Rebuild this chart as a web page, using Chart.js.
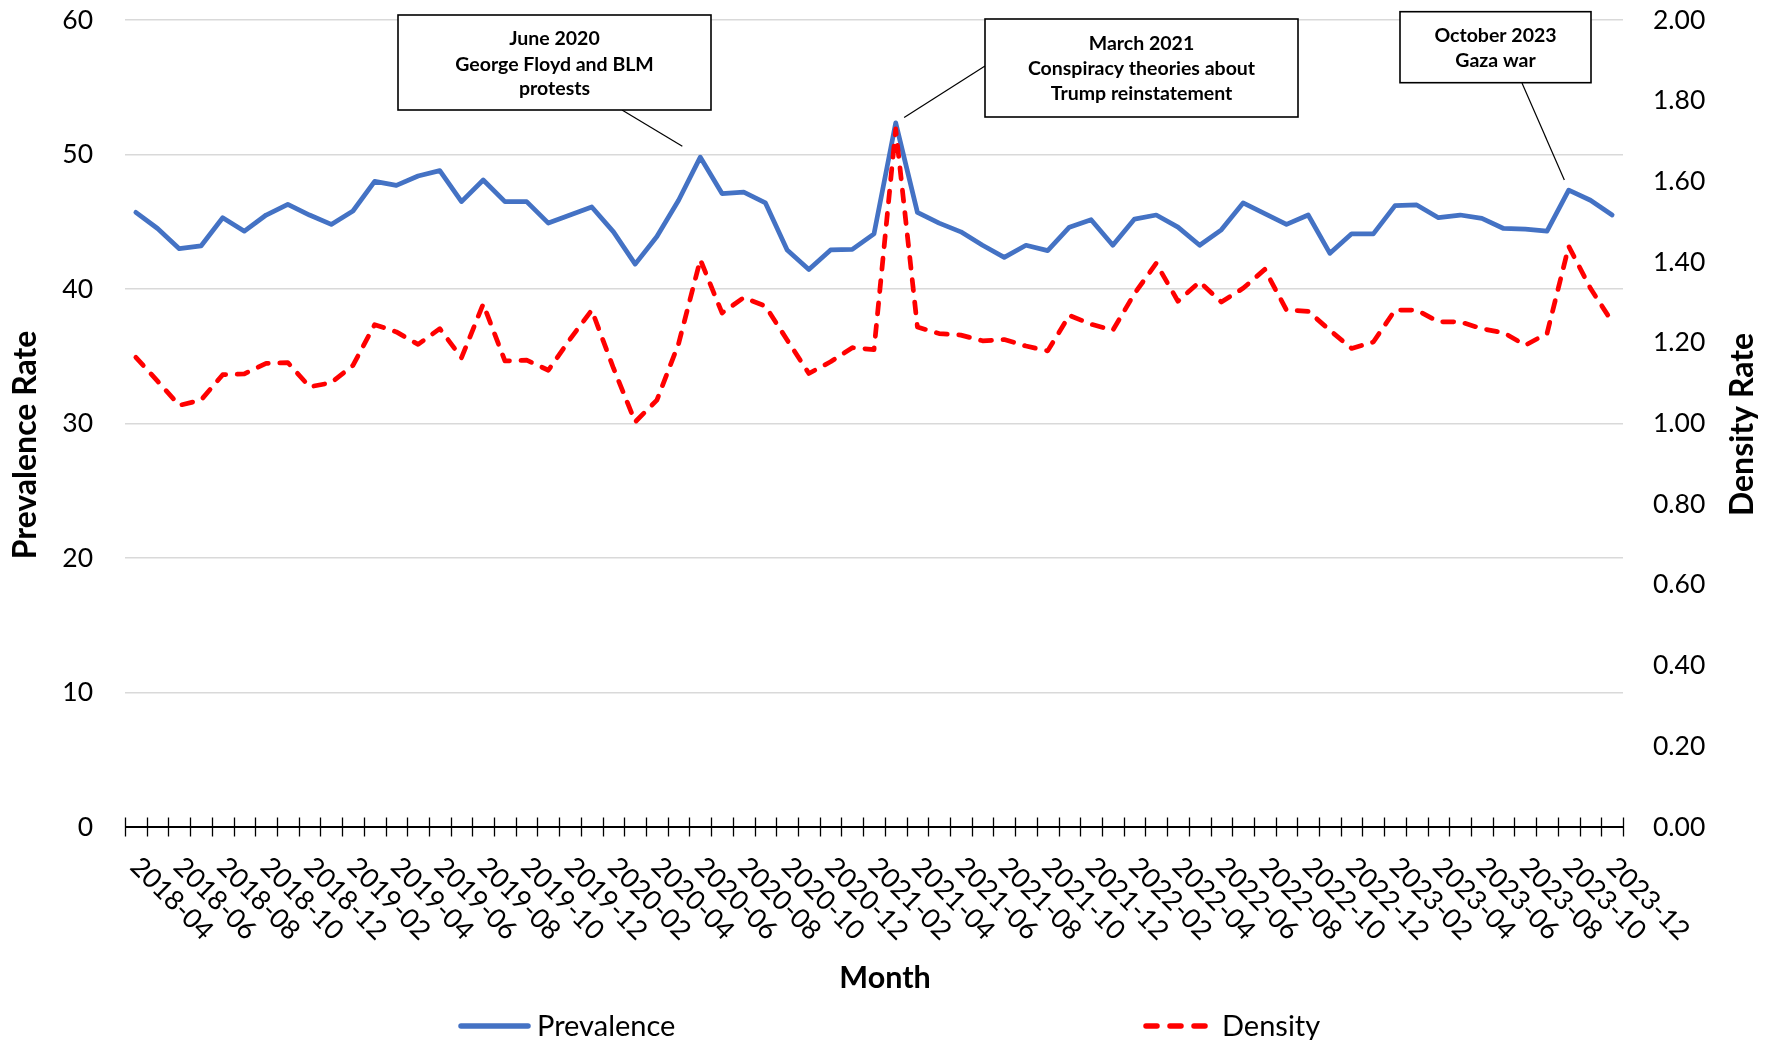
<!DOCTYPE html>
<html>
<head>
<meta charset="utf-8">
<script src="https://cdn.jsdelivr.net/npm/chart.js@4.4.0/dist/chart.umd.min.js"></script>
<style>
  html, body { margin: 0; padding: 0; background: #ffffff; }
  canvas { display: block; }
</style>
</head>
<body>
<canvas id="chart" width="1777" height="1040"></canvas>
<script>
// ---------------- DATA ----------------
const months = [
  "2018-04","2018-05","2018-06","2018-07","2018-08","2018-09","2018-10","2018-11","2018-12",
  "2019-01","2019-02","2019-03","2019-04","2019-05","2019-06","2019-07","2019-08","2019-09","2019-10","2019-11","2019-12",
  "2020-01","2020-02","2020-03","2020-04","2020-05","2020-06","2020-07","2020-08","2020-09","2020-10","2020-11","2020-12",
  "2021-01","2021-02","2021-03","2021-04","2021-05","2021-06","2021-07","2021-08","2021-09","2021-10","2021-11","2021-12",
  "2022-01","2022-02","2022-03","2022-04","2022-05","2022-06","2022-07","2022-08","2022-09","2022-10","2022-11","2022-12",
  "2023-01","2023-02","2023-03","2023-04","2023-05","2023-06","2023-07","2023-08","2023-09","2023-10","2023-11","2023-12"
];

const prevalence = [
  45.7, 44.5, 43.0, 43.2, 45.3, 44.3, 45.5, 46.3, 45.5,
  44.8, 45.8, 48.0, 47.7, 48.4, 48.8, 46.5, 48.1, 46.5, 46.5, 44.9, 45.5,
  46.1, 44.25, 41.85, 43.9, 46.6, 49.8, 47.1, 47.2, 46.4, 42.9, 41.45, 42.9,
  42.95, 44.1, 52.35, 45.7, 44.9, 44.25, 43.25, 42.35, 43.25, 42.85, 44.6, 45.15,
  43.25, 45.2, 45.5, 44.6, 43.25, 44.4, 46.4, 45.6, 44.8, 45.5, 42.65, 44.1,
  44.1, 46.2, 46.25, 45.3, 45.5, 45.25, 44.5, 44.45, 44.3, 47.35, 46.6, 45.5
];

const density = [
  1.164, 1.105, 1.045, 1.058, 1.121, 1.123, 1.149, 1.151, 1.091,
  1.101, 1.144, 1.245, 1.227, 1.196, 1.235, 1.163, 1.296, 1.155, 1.157, 1.132, 1.209,
  1.281, 1.137, 1.004, 1.058, 1.198, 1.406, 1.274, 1.312, 1.291, 1.207, 1.124, 1.153,
  1.188, 1.183, 1.730, 1.239, 1.223, 1.219, 1.205, 1.208, 1.192, 1.180, 1.268, 1.246,
  1.231, 1.322, 1.397, 1.303, 1.351, 1.301, 1.335, 1.382, 1.281, 1.278, 1.231, 1.186,
  1.202, 1.281, 1.281, 1.252, 1.252, 1.235, 1.225, 1.194, 1.223, 1.439, 1.335, 1.252
];

const seriesNames = ["Prevalence", "Density"];
const axisTitles = { x: "Month", y: "Prevalence Rate", y1: "Density Rate" };

const annotationMonths = ["2020-06", "2021-03", "2023-10"];
const annotationTexts = [
  ["June 2020", "George Floyd and BLM", "protests"],
  ["March 2021", "Conspiracy theories about", "Trump reinstatement"],
  ["October 2023", "Gaza war"]
];

// ---------------- STYLE / LAYOUT ----------------
const FONT = "Lato, 'Open Sans', 'DejaVu Sans', sans-serif";
const BLUE = "#4472C4";
const RED = "#FF0000";

// annotation box layout (pixels)
const boxLayout = [
  { x: 398,  y: 15,   w: 313, h: 95, base: [45.3, 71.3, 95.3], from: [622, 110], gap: 21 },
  { x: 985,  y: 19,   w: 313, h: 98, base: [49.5, 74.5, 99.5], from: [985, 66],  gap: 10 },
  { x: 1400, y: 11.7, w: 191, h: 71, base: [41.7, 66.7],       from: [1522, 83], gap: 11 }
];

const decor = {
  id: 'decor',
  afterDraw(chart) {
    const { ctx, chartArea: a, scales } = chart;
    const xs = scales.x, ys = scales.y;
    ctx.save();

    // x axis line
    const y0 = ys.getPixelForValue(0);
    ctx.strokeStyle = '#000';
    ctx.lineWidth = 2;
    ctx.beginPath();
    ctx.moveTo(a.left, y0);
    ctx.lineTo(a.right, y0);
    ctx.stroke();

    // crossing tick marks at category boundaries
    ctx.lineWidth = 1.3;
    ctx.beginPath();
    for (let k = 0; k <= months.length; k++) {
      const px = Math.round(xs.getPixelForValue(k - 0.5)) + 0.5;
      ctx.moveTo(px, y0 - 9.5);
      ctx.lineTo(px, y0 + 9.5);
    }
    ctx.stroke();

    // x tick labels (every 2 months), rotated 45° clockwise
    ctx.fillStyle = '#000';
    ctx.font = `27px ${FONT}`;
    ctx.textAlign = 'left';
    ctx.textBaseline = 'middle';
    months.forEach((m, i) => {
      if (i % 2 !== 0) return;
      const px = xs.getPixelForValue(i);
      ctx.save();
      ctx.translate(px - 1, 862);
      ctx.rotate(Math.PI / 4);
      ctx.fillText(m, 0, 0);
      ctx.restore();
    });

    // axis titles
    ctx.textAlign = 'center';
    ctx.textBaseline = 'alphabetic';
    ctx.font = `bold 30.5px ${FONT}`;
    ctx.fillText(axisTitles.x, 885, 988);

    ctx.font = `bold 32px ${FONT}`;
    ctx.save();
    ctx.translate(36, 445);
    ctx.rotate(-Math.PI / 2);
    ctx.fillText(axisTitles.y, 0, 0);
    ctx.restore();

    ctx.save();
    ctx.translate(1753, 424.5);
    ctx.rotate(-Math.PI / 2);
    ctx.fillText(axisTitles.y1, 0, 0);
    ctx.restore();

    // legend
    ctx.lineCap = 'round';
    ctx.lineWidth = 5.5;
    ctx.strokeStyle = BLUE;
    ctx.beginPath();
    ctx.moveTo(461, 1026);
    ctx.lineTo(528, 1026);
    ctx.stroke();
    ctx.strokeStyle = RED;
    ctx.setLineDash([11, 13]);
    ctx.beginPath();
    ctx.moveTo(1146, 1026);
    ctx.lineTo(1206, 1026);
    ctx.stroke();
    ctx.setLineDash([]);
    ctx.font = `29px ${FONT}`;
    ctx.textAlign = 'left';
    ctx.fillStyle = '#000';
    ctx.fillText(seriesNames[0], 537, 1035.5);
    ctx.fillText(seriesNames[1], 1222, 1035.5);

    // annotation boxes with leader lines
    annotationMonths.forEach((m, j) => {
      const b = boxLayout[j];
      const idx = months.indexOf(m);
      const px = xs.getPixelForValue(idx);
      const py = ys.getPixelForValue(prevalence[idx]);
      const dx = b.from[0] - px, dy = b.from[1] - py;
      const len = Math.hypot(dx, dy);
      const ex = px + dx / len * b.gap, ey = py + dy / len * b.gap;
      ctx.strokeStyle = '#000';
      ctx.lineWidth = 1.2;
      ctx.lineCap = 'butt';
      ctx.beginPath();
      ctx.moveTo(b.from[0], b.from[1]);
      ctx.lineTo(ex, ey);
      ctx.stroke();

      ctx.fillStyle = '#fff';
      ctx.fillRect(b.x, b.y, b.w, b.h);
      ctx.lineWidth = 1.6;
      ctx.strokeRect(b.x, b.y, b.w, b.h);
      ctx.fillStyle = '#000';
      ctx.font = `bold 19.5px ${FONT}`;
      ctx.textAlign = 'center';
      ctx.textBaseline = 'alphabetic';
      annotationTexts[j].forEach((t, k) => ctx.fillText(t, b.x + b.w / 2, b.base[k]));
    });

    ctx.restore();
  }
};

function fixVertical(width) {
  return function (s) {
    s.width = width;
    s.paddingTop = 0;
    s.paddingBottom = 0;
  };
}

new Chart(document.getElementById('chart').getContext('2d'), {
  type: 'line',
  data: {
    labels: months,
    datasets: [
      {
        label: seriesNames[0],
        data: prevalence,
        yAxisID: 'y',
        borderColor: BLUE,
        backgroundColor: BLUE,
        borderWidth: 4.75,
        borderJoinStyle: 'round',
        borderCapStyle: 'round',
        pointRadius: 0,
        tension: 0,
        fill: false,
        order: 1
      },
      {
        label: seriesNames[1],
        data: density,
        yAxisID: 'y1',
        borderColor: RED,
        backgroundColor: RED,
        borderWidth: 4.75,
        borderDash: [11, 11.5],
        borderJoinStyle: 'round',
        borderCapStyle: 'round',
        pointRadius: 0,
        tension: 0,
        fill: false,
        order: 0
      }
    ]
  },
  options: {
    responsive: false,
    animation: false,
    devicePixelRatio: 1,
    layout: { padding: { top: 20, left: 0, right: 0, bottom: 0 } },
    plugins: {
      legend: { display: false },
      tooltip: { enabled: false }
    },
    scales: {
      x: {
        type: 'category',
        offset: true,
        grid: { display: false, drawTicks: false },
        border: { display: false },
        ticks: { display: false },
        afterFit(s) { s.height = 213; s.paddingLeft = 0; s.paddingRight = 0; }
      },
      y: {
        position: 'left',
        min: 0,
        max: 60,
        ticks: { stepSize: 10, color: '#000', font: { family: FONT, size: 26.5 }, padding: 32 },
        grid: { color: '#d9d9d9', lineWidth: 1.5, drawTicks: false },
        border: { display: false },
        afterFit: fixVertical(125)
      },
      y1: {
        position: 'right',
        min: 0,
        max: 2,
        ticks: {
          stepSize: 0.2,
          color: '#000',
          font: { family: FONT, size: 26.5 },
          padding: 30,
          callback: v => Number(v).toFixed(2)
        },
        grid: { drawOnChartArea: false, drawTicks: false },
        border: { display: false },
        afterFit: fixVertical(154)
      }
    }
  },
  plugins: [decor]
});
</script>
</body>
</html>
